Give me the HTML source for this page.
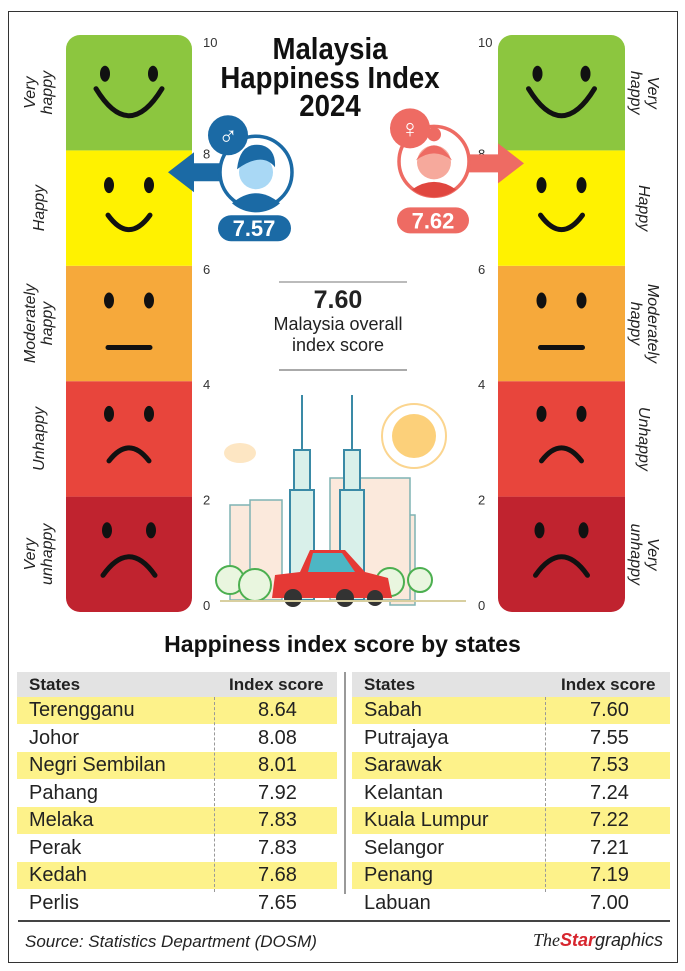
<!DOCTYPE html>
<html><head><meta charset="utf-8">
<style>
body{margin:0;width:685px;height:971px;background:#fff;position:relative;overflow:hidden;font-family:"Liberation Sans",sans-serif}
.n{font-family:"Liberation Sans Narrow","Liberation Sans",sans-serif}
.abs{position:absolute}
.tbl{position:absolute;font-family:"Liberation Sans Narrow","Liberation Sans",sans-serif}
.row{position:absolute;left:0;right:0;height:27px;font-size:20px;color:#222}
.row span{position:absolute;top:2px}
</style></head><body>
<div class="abs" style="left:8px;top:11px;width:668px;height:950px;border:1.5px solid #333"></div>
<svg id="g" class="abs" style="left:0;top:0" width="685" height="640"></svg>
<div class="abs n" style="left:190px;top:35px;width:280px;text-align:center;font-weight:bold;font-size:31px;line-height:28.5px;color:#111;transform:scaleX(0.89)">Malaysia<br>Happiness Index<br>2024</div>
<div class="abs" style="left:238px;top:286px;width:200px;text-align:center;color:#222">
<div class="n" style="font-weight:bold;font-size:25px;line-height:28px">7.60</div>
<div style="font-size:18px;line-height:21px">Malaysia overall<br>index score</div></div>
<div class="abs n" style="left:0;width:685px;top:631px;text-align:center;font-weight:bold;font-size:23px;color:#111">Happiness index score by states</div>
<div id="t1" class="tbl" style="left:17px;top:672px;width:320px;height:220px"></div>
<div id="t2" class="tbl" style="left:352px;top:672px;width:318px;height:220px"></div>
<div class="abs" style="left:344px;top:672px;width:1.5px;height:222px;background:#999"></div>
<div class="abs" style="left:18px;top:920px;width:652px;height:2px;background:#444"></div>
<div class="abs n" style="left:25px;top:932px;font-style:italic;font-size:17px;color:#222">Source: Statistics Department (DOSM)</div>
<div class="abs n" style="left:533px;top:930px;font-size:18px;font-style:italic;color:#222"><span style="font-family:'Liberation Serif',serif">The</span><b style="color:#d7262e">Star</b>graphics</div>
<script>
const segLabels=["Very unhappy","Unhappy","Moderately happy","Happy","Very happy"];
const segColors=["#c0232f","#e8453c","#f6a93b","#fff200","#8cc63f"];
const ticks=[0,2,4,6,8,10];
const maleScore=7.57, femaleScore=7.62;
const leftStates=["Terengganu","Johor","Negri Sembilan","Pahang","Melaka","Perak","Kedah","Perlis"];
const leftScores=[8.64,8.08,8.01,7.92,7.83,7.83,7.68,7.65];
const rightStates=["Sabah","Putrajaya","Sarawak","Kelantan","Kuala Lumpur","Selangor","Penang","Labuan"];
const rightScores=[7.60,7.55,7.53,7.24,7.22,7.21,7.19,7.00];
const NS="http://www.w3.org/2000/svg";
const svg=document.getElementById('g');
const y=v=>612-v*57.7;
function mk(tag,a,p){const e=document.createElementNS(NS,tag);for(const k in a)e.setAttribute(k,a[k]);(p||svg).appendChild(e);return e;}
const mouths=["M-26 21 Q0 -16 26 21","M-20 22 Q0 -4 20 22","M-21 24 L21 24","M-21 7 Q0 36 21 7","M-33 -4 Q0 50 33 -4"];
const eyeDy=[-24,-25,-23,-23,-19], eyeDx=[22,20,20,20,24];
[[66,126,38,-90],[498,127,645,90]].forEach(([x0,w,lx,rot],side)=>{
  const cp=mk('clipPath',{id:'c'+side});mk('rect',{x:x0,y:y(10),width:w,height:y(0)-y(10),rx:14},cp);
  segLabels.forEach((lab,i)=>{
    const r=mk('rect',{x:x0,y:y(2*i+2),width:w,height:y(2*i)-y(2*i+2),fill:segColors[i],'clip-path':'url(#c'+side+')'});
    
    
    const cx=x0+w/2, cy=(y(2*i)+y(2*i+2))/2;
    mk('ellipse',{cx:cx-eyeDx[i],cy:cy+eyeDy[i],rx:5,ry:8,fill:'#111'});mk('ellipse',{cx:cx+eyeDx[i],cy:cy+eyeDy[i],rx:5,ry:8,fill:'#111'});
    mk('path',{d:mouths[i],transform:`translate(${cx},${cy})`,stroke:'#111','stroke-width':5,fill:'none','stroke-linecap':'round'});
    const t=mk('text',{x:0,y:0,transform:`translate(${lx},${cy}) rotate(${rot})`,'text-anchor':'middle','font-size':16,'font-style':'italic',fill:'#222'});
    
    
    const words=lab.split(' ');
    words.forEach((wd,j)=>{const ts=mk('tspan',{x:0,dy:j==0?(words.length>1?-3:6):17},t);ts.textContent=wd;});
  });
  ticks.forEach(v=>{const t=mk('text',{x:side?478:203,y:v==0?y(v)-2:y(v)+8+(v==10?4:0),'font-size':13,fill:'#333'});t.textContent=v;
    
    });
});
// male
const my=y(maleScore), fy=y(femaleScore);
mk('path',{d:`M168 ${my-3} L194 ${my-23} L194 ${my-12} L225 ${my-12} L225 ${my+6} L194 ${my+6} L194 ${my+17}Z`,fill:'#1b6aa5'});
mk('circle',{cx:256,cy:my-3,r:36,fill:'#fff',stroke:'#1b6aa5','stroke-width':3.5});
mk('path',{d:`M232 ${my+28} Q256 ${my+8} 280 ${my+28} A36 36 0 0 1 232 ${my+28}Z`,fill:'#1b6aa5'});
mk('circle',{cx:256,cy:my-3,r:17,fill:'#a9d8f5'});mk('path',{d:`M237 ${my-6} Q240 ${my-34} 262 ${my-30} Q276 ${my-26} 275 ${my-8} Q262 ${my-24} 237 ${my-6}Z`,fill:'#1b6aa5'});
mk('circle',{cx:228,cy:my-40,r:20,fill:'#1b6aa5'});const ms=mk('text',{x:228,y:my-31,'text-anchor':'middle','font-size':26,fill:'#fff','font-weight':'bold'});ms.textContent='♂';
const mb=mk('rect',{x:218,y:my+40,width:73,height:26,rx:13,fill:'#1b6aa5'});


const mt=mk('text',{x:254,y:my+61,'text-anchor':'middle','font-size':22,'font-weight':'bold',fill:'#fff'});mt.textContent=maleScore.toFixed(2);
// female
mk('path',{d:`M524 ${fy-9} L498 ${fy-29} L498 ${fy-18} L468 ${fy-18} L468 ${fy} L498 ${fy} L498 ${fy+11}Z`,fill:'#ee6b63'});
mk('circle',{cx:434,cy:fy-11,r:35,fill:'#fff',stroke:'#ee6b63','stroke-width':3.5});
mk('path',{d:`M412 ${fy+17} Q434 ${fy+2} 456 ${fy+17} A35 35 0 0 1 412 ${fy+17}Z`,fill:'#e0463f'});
mk('circle',{cx:434,cy:fy-10,r:17,fill:'#f6a99c'});mk('path',{d:`M416 ${fy-12} Q434 ${fy-42} 452 ${fy-12} Q434 ${fy-26} 416 ${fy-12}Z`,fill:'#ee6b63'});mk('circle',{cx:434,cy:fy-38,r:7,fill:'#ee6b63'});
mk('circle',{cx:410,cy:fy-44,r:20,fill:'#ee6b63'});const fs=mk('text',{x:410,y:fy-35,'text-anchor':'middle','font-size':26,fill:'#fff','font-weight':'bold'});fs.textContent='♀';
const fb=mk('rect',{x:397,y:fy+35,width:72,height:26,rx:13,fill:'#ee6b63'});


const ft=mk('text',{x:433,y:fy+56,'text-anchor':'middle','font-size':22,'font-weight':'bold',fill:'#fff'});ft.textContent=femaleScore.toFixed(2);
// divider lines
mk('line',{x1:279,x2:407,y1:282,y2:282,stroke:'#777'});mk('line',{x1:279,x2:407,y1:370,y2:370,stroke:'#aaa','stroke-width':2});
// city illustration
const city=mk('g',{});
mk('circle',{cx:414,cy:436,r:22,fill:'#fcd07a'},city);mk('circle',{cx:414,cy:436,r:32,fill:'none',stroke:'#fbd58f','stroke-width':2},city);
mk('ellipse',{cx:240,cy:453,rx:16,ry:10,fill:'#fde6c3'},city);
[[230,505,30,95],[250,500,32,100],[365,505,30,95],[390,515,25,90],[330,478,80,122]].forEach(b=>mk('rect',{x:b[0],y:b[1],width:b[2],height:b[3],fill:'#fbe9dc',stroke:'#7fb3b3','stroke-width':1.5},city));
[[290,490,24,110],[340,490,24,110]].forEach(b=>{mk('rect',{x:b[0],y:b[1],width:b[2],height:b[3],fill:'#d9f0ea',stroke:'#3a8aa6','stroke-width':2},city);mk('rect',{x:b[0]+4,y:b[1]-40,width:b[2]-8,height:40,fill:'#d9f0ea',stroke:'#3a8aa6','stroke-width':2},city);mk('line',{x1:b[0]+12,x2:b[0]+12,y1:b[1]-95,y2:b[1]-40,stroke:'#3a8aa6','stroke-width':2},city);});
[[230,580,14],[255,585,16],[390,582,14],[420,580,12]].forEach(c=>mk('circle',{cx:c[0],cy:c[1],r:c[2],fill:'#e9f6df',stroke:'#4caf50','stroke-width':2},city));
mk('path',{d:'M272 598 L275 575 L300 572 L310 550 L345 550 L365 572 L388 578 L392 598Z',fill:'#e53935'},city);
mk('path',{d:'M313 553 L342 553 L355 572 L308 572Z',fill:'#4db6c4'},city);
mk('circle',{cx:293,cy:598,r:9,fill:'#333'},city);mk('circle',{cx:345,cy:598,r:9,fill:'#333'},city);mk('circle',{cx:375,cy:598,r:8,fill:'#333'},city);
mk('line',{x1:220,x2:466,y1:601,y2:601,stroke:'#d8cfa0','stroke-width':2},city);
// tables
function table(el,states,scores,divX,scoreX){
  const h=document.createElement('div');h.className='row';h.style.top='0';h.style.height='25px';h.style.background='#e3e3e3';h.style.fontWeight='bold';h.style.fontSize='17px';
  
  
  h.innerHTML=`<span style="left:12px;top:3px">States</span><span style="left:${scoreX-48}px;top:3px">Index score</span>`;el.appendChild(h);
  states.forEach((s,i)=>{const r=document.createElement('div');r.className='row';r.style.top=(25+i*27.5)+'px';if(i%2==0)r.style.background='#fdf28a';
    
    
    r.innerHTML=`<span style="left:12px">${s}</span><span style="left:${scoreX-19}px">${scores[i].toFixed(2)}</span>`;el.appendChild(r);});
  const d=document.createElement('div');d.style.cssText=`position:absolute;left:${divX}px;top:25px;height:195px;border-left:1px dashed #999`;el.appendChild(d);
}
table(document.getElementById('t1'),leftStates,leftScores,197,260);
table(document.getElementById('t2'),rightStates,rightScores,193,257);
</script>
</body></html>
